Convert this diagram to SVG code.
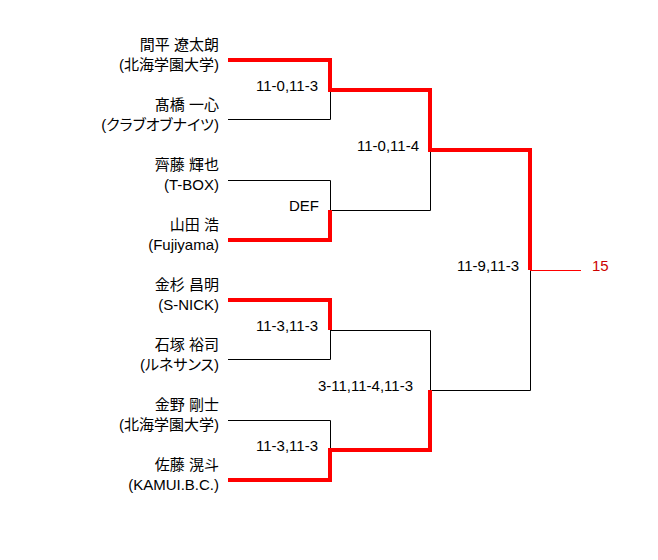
<svg xmlns="http://www.w3.org/2000/svg" width="658" height="560" viewBox="0 0 658 560">
<style>
text{font-family:"Liberation Sans","Noto Sans CJK JP",sans-serif;font-size:15px;fill:#000}
.nm{text-anchor:end;font-feature-settings:"palt"}
.sc{text-anchor:end}
.win{fill:none;stroke:#ff0000;stroke-width:4;stroke-linejoin:miter}
.lose{fill:none;stroke:#000;stroke-width:1}
.champ{fill:none;stroke:#ff0000;stroke-width:1}
</style>
<rect width="658" height="560" fill="#fff"/>
<g id="connectors">
<path class="lose" d="M228,119.5H330.5V90"/>
<path class="lose" d="M228,180.5H330.5V210"/>
<path class="lose" d="M330,210.5H430.5V150"/>
<path class="lose" d="M228,359.5H330.5V330"/>
<path class="lose" d="M330,330.5H430.5V390"/>
<path class="lose" d="M228,420.5H330.5V450"/>
<path class="lose" d="M430,390.5H530.5V270"/>
<path class="win" d="M228,60H330V90H430V150H530V270"/>
<path class="win" d="M228,240H330V210"/>
<path class="win" d="M228,300H330V330"/>
<path class="win" d="M228,480H330V450H430V390"/>
<path class="champ" d="M530,270.5H581"/>
</g>
<g id="p1"><text class="nm" x="219" y="50">間平 遼太朗</text><text class="nm" x="219" y="70">(北海学園大学)</text></g>
<g id="p2"><text class="nm" x="219" y="110">髙橋 一心</text><text class="nm" x="219" y="130">(クラブオブナイツ)</text></g>
<g id="p3"><text class="nm" x="219" y="170">齊藤 輝也</text><text class="nm" x="219" y="190">(T-BOX)</text></g>
<g id="p4"><text class="nm" x="219" y="230">山田 浩</text><text class="nm" x="219" y="250">(Fujiyama)</text></g>
<g id="p5"><text class="nm" x="219" y="290">金杉 昌明</text><text class="nm" x="219" y="310">(S-NICK)</text></g>
<g id="p6"><text class="nm" x="219" y="350">石塚 裕司</text><text class="nm" x="219" y="370">(ルネサンス)</text></g>
<g id="p7"><text class="nm" x="219" y="410">金野 剛士</text><text class="nm" x="219" y="430">(北海学園大学)</text></g>
<g id="p8"><text class="nm" x="219" y="470">佐藤 滉斗</text><text class="nm" x="219" y="490">(KAMUI.B.C.)</text></g>
<g id="m1"><text class="sc" x="318" y="91">11-0,11-3</text></g>
<g id="m2"><text class="sc" x="319" y="211">DEF</text></g>
<g id="m3"><text class="sc" x="318" y="331">11-3,11-3</text></g>
<g id="m4"><text class="sc" x="318" y="451">11-3,11-3</text></g>
<g id="sf1"><text class="sc" x="419" y="151">11-0,11-4</text></g>
<g id="sf2"><text class="sc" x="413" y="391">3-11,11-4,11-3</text></g>
<g id="final"><text class="sc" x="519" y="271">11-9,11-3</text></g>
<g id="champion"><text x="592" y="271" style="fill:#cc0000">15</text></g>
</svg>
